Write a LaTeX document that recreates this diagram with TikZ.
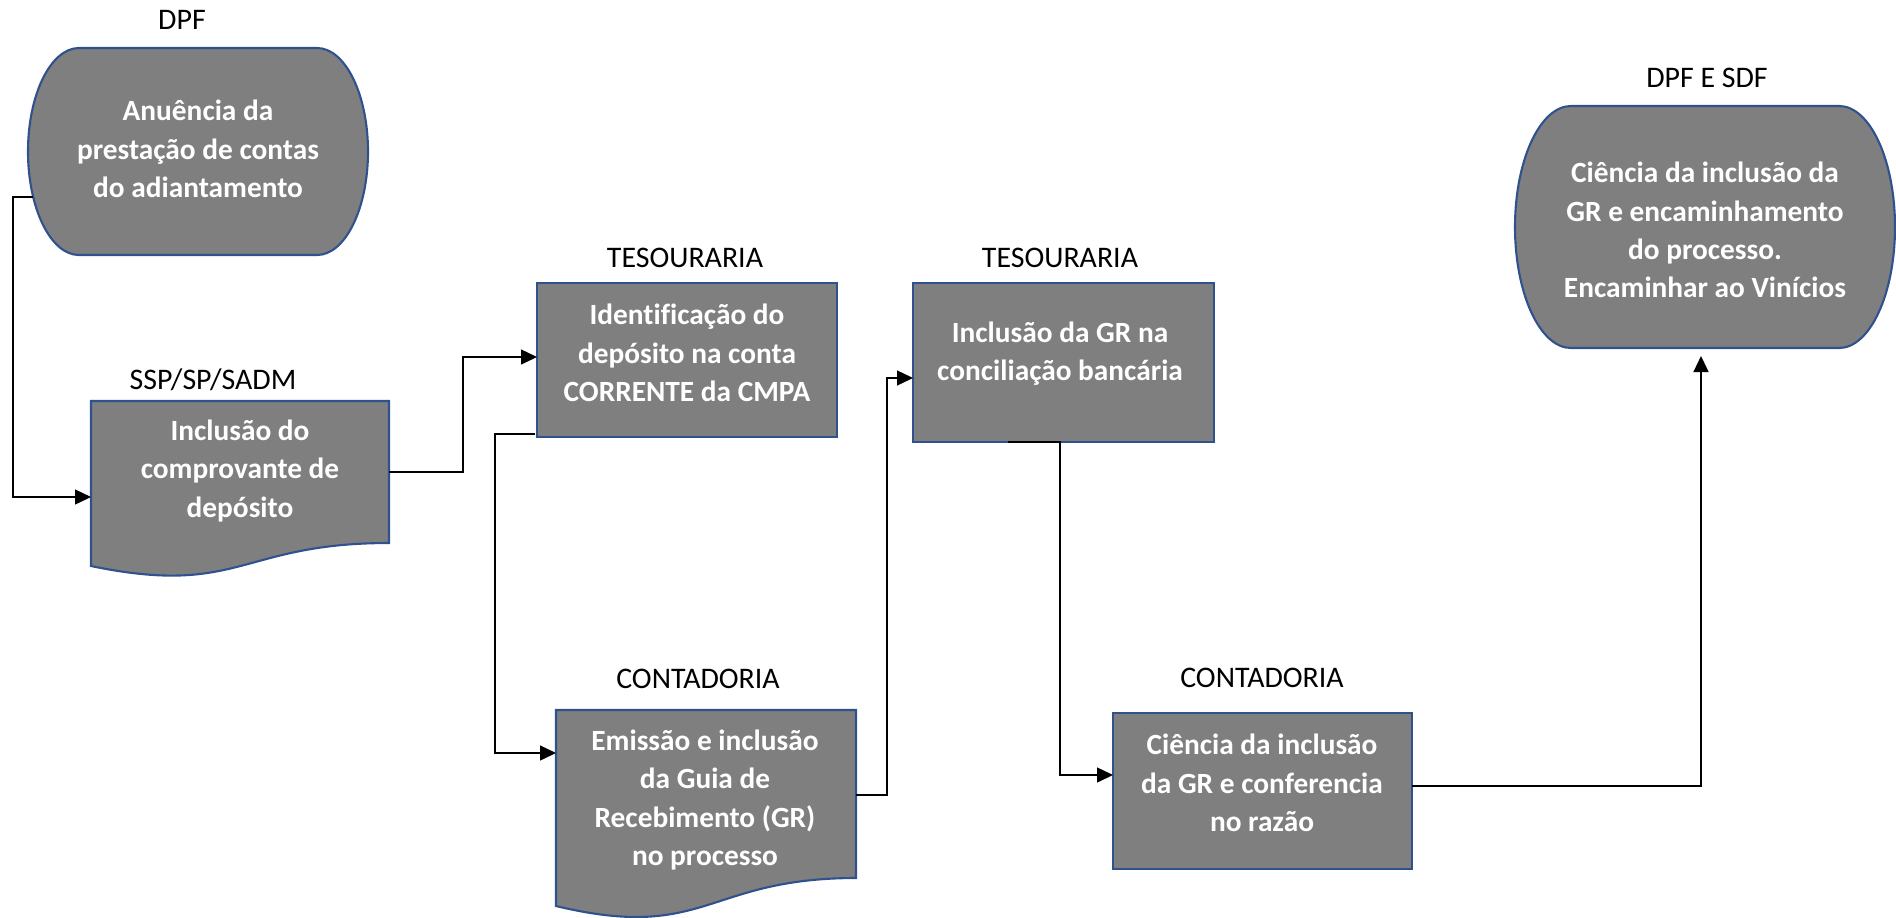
\documentclass[tikz,border=0pt]{standalone}
\usepackage{fontspec}
\setmainfont{Carlito}[Ligatures=NoCommon]
\usetikzlibrary{arrows.meta}
\definecolor{boxfill}{HTML}{7F7F7F}
\definecolor{boxline}{HTML}{2F528F}
\begin{document}
\begin{tikzpicture}[x=0.02cm,y=-0.02cm,
  shapeline/.style={draw=boxline, fill=boxfill, line width=1.2pt},
  procbox/.style={shapeline, rectangle, inner sep=0pt},
  boxtext/.style={text=white, font=\fontsize{16.7}{21.8}\selectfont\bfseries, align=center, inner sep=0pt},
  lbl/.style={font=\fontsize{17}{20}\selectfont, inner sep=0pt},
  conn/.style={draw=black, line width=0.8pt},
  arr/.style={conn, -{Triangle[length=0.32cm,width=0.30cm]}},
]
\useasboundingbox (0,0) rectangle (1896,917);

% ---------- Terminator 1 (DPF)
\draw[shapeline] (79,48) -- (317,48)
  arc[start angle=-90,end angle=90,x radius=51,y radius=103.5] -- (79,255)
  arc[start angle=90,end angle=270,x radius=51,y radius=103.5] -- cycle;
\node[boxtext] (t1) at (198,149) {Anuência da\\prestação de contas\\do adiantamento};
\node[lbl] (l1) at (182,20) {DPF};
\coordinate (t1out) at (33,197);

% ---------- Document 1 (SSP/SP/SADM)
\draw[shapeline] (91,401) -- (389,401) -- (389,543)
  .. controls (240,543) and (240,597) .. (91,566) -- cycle;
\node[boxtext] (d1) at (240,471) {Inclusão do\\comprovante de\\depósito};
\node[lbl] (l2) at (213,380) {SSP/SP/SADM};
\coordinate (d1in) at (91,497);
\coordinate (d1out) at (389,472);

% ---------- Box 2 (TESOURARIA)
\node[procbox, minimum width=6cm, minimum height=3.08cm] (b2) at (687,360) {};
\node[boxtext] (b2t) at (687,353) {Identificação do\\depósito na conta\\CORRENTE da CMPA};
\node[lbl] (l3) at (685,258) {TESOURARIA};
\coordinate (b2in) at (537,357);
\coordinate (b2out) at (535,434);

% ---------- Document 2 (CONTADORIA)
\draw[shapeline] (556,710) -- (856,710) -- (856,878)
  .. controls (706,878) and (706,942) .. (556,906) -- cycle;
\node[boxtext] (d2) at (705,800) {Emissão e inclusão\\da Guia de\\Recebimento (GR)\\no processo};
\node[lbl] (l4) at (698,679) {CONTADORIA};
\coordinate (d2in) at (556,753);
\coordinate (d2out) at (856,795);

% ---------- Box 3 (TESOURARIA)
\node[procbox, minimum width=6.02cm, minimum height=3.18cm] (b3) at (1063.5,362.5) {};
\node[boxtext] (b3t) at (1060,354) {Inclusão da GR na\\conciliação bancária};
\node[lbl] (l5) at (1060,258) {TESOURARIA};
\coordinate (b3in) at (913,378);
\coordinate (b3out) at (1008,442);

% ---------- Box 4 (CONTADORIA)
\node[procbox, minimum width=5.98cm, minimum height=3.12cm] (b4) at (1262.5,791) {};
\node[boxtext] (b4t) at (1262,783) {Ciência da inclusão\\da GR e conferencia\\no razão};
\node[lbl] (l6) at (1262,678) {CONTADORIA};
\coordinate (b4in) at (1113,775);
\coordinate (b4out) at (1412,786);

% ---------- Terminator 2 (DPF E SDF)
\draw[shapeline] (1571,106) -- (1839,106)
  arc[start angle=-90,end angle=90,x radius=56,y radius=121] -- (1571,348)
  arc[start angle=90,end angle=270,x radius=56,y radius=121] -- cycle;
\node[boxtext] (t2) at (1705,230) {Ciência da inclusão da\\GR e encaminhamento\\do processo.\\Encaminhar ao Vinícios};
\node[lbl] (l7) at (1707,78) {DPF E SDF};
\coordinate (t2in) at (1701,356);

% ---------- Connectors
\draw[arr] (t1out) -- (13,197) |- (d1in);
\draw[arr] (d1out) -- (463,472) |- (b2in);
\draw[arr] (b2out) -- (495,434) |- (d2in);
\draw[arr] (d2out) -- (887,795) |- (b3in);
\draw[arr] (b3out) -- (1060,442) |- (b4in);
\draw[arr] (b4out) -| (t2in);
\end{tikzpicture}
\end{document}
